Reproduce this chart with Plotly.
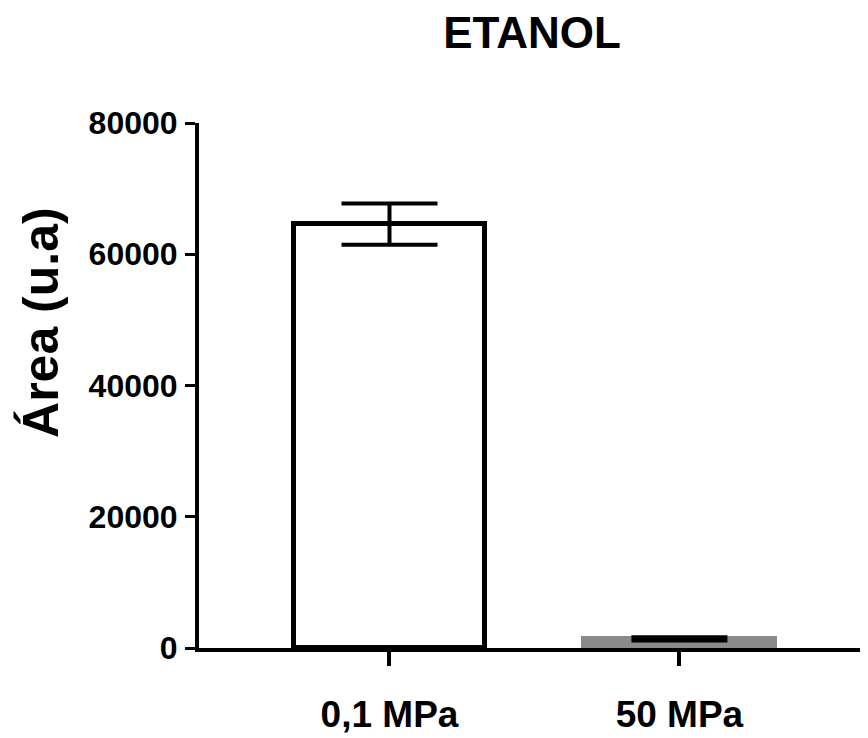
import plotly.graph_objects as go

categories = ["0,1 MPa", "50 MPa"]
means = [64600, 1400]
errors = [3150, 250]
y_ticks = [0, 20000, 40000, 60000, 80000]

font_family = "Liberation Sans, Arial, sans-serif"
x_pos = list(range(len(categories)))

fig = go.Figure()
fig.add_trace(go.Bar(
    x=x_pos,
    y=means,
    width=0.66,
    marker=dict(color=["white", "#8a8a8a"],
                line=dict(color=["black", "#8a8a8a"], width=5)),
    error_y=dict(type="data", array=errors, visible=True,
                 color="black", thickness=4, width=48),
    showlegend=False,
))

fig.update_layout(
    width=868, height=738,
    margin=dict(l=191, r=0, t=115, b=98, autoexpand=False),
    paper_bgcolor="white", plot_bgcolor="white",
    font=dict(family=font_family, color="black"),
    title=dict(text="<b>ETANOL</b>", x=0.6037, xanchor="center",
               y=1 - 25 / 738, yanchor="middle",
               font=dict(size=44, family=font_family, color="black")),
    bargap=0,
    annotations=[dict(
        text="<b>Área (u.a)</b>", textangle=-90,
        xref="paper", yref="paper", x=-0.2334, y=0.621,
        xanchor="center", yanchor="middle", showarrow=False,
        font=dict(size=50, family=font_family, color="black"),
    )],
)
fig.update_xaxes(
    range=[-0.657, 1.678],
    tickvals=x_pos,
    ticktext=["<b>%s</b>" % c for c in categories],
    ticks="outside", ticklen=14, tickwidth=4, tickcolor="black",
    showline=True, linecolor="black", linewidth=4,
    showgrid=False, zeroline=False,
    tickfont=dict(size=37, family=font_family, color="black"),
    ticklabelstandoff=17,
)
fig.update_yaxes(
    range=[0, 80000],
    tickvals=y_ticks,
    ticktext=["<b>%d</b>" % v for v in y_ticks],
    ticks="outside", ticklen=10, tickwidth=3, tickcolor="black",
    showline=True, linecolor="black", linewidth=4,
    showgrid=False, zeroline=False,
    tickfont=dict(size=32, family=font_family, color="black"),
    ticklabelstandoff=1,
)

fig.write_html("out.html")
